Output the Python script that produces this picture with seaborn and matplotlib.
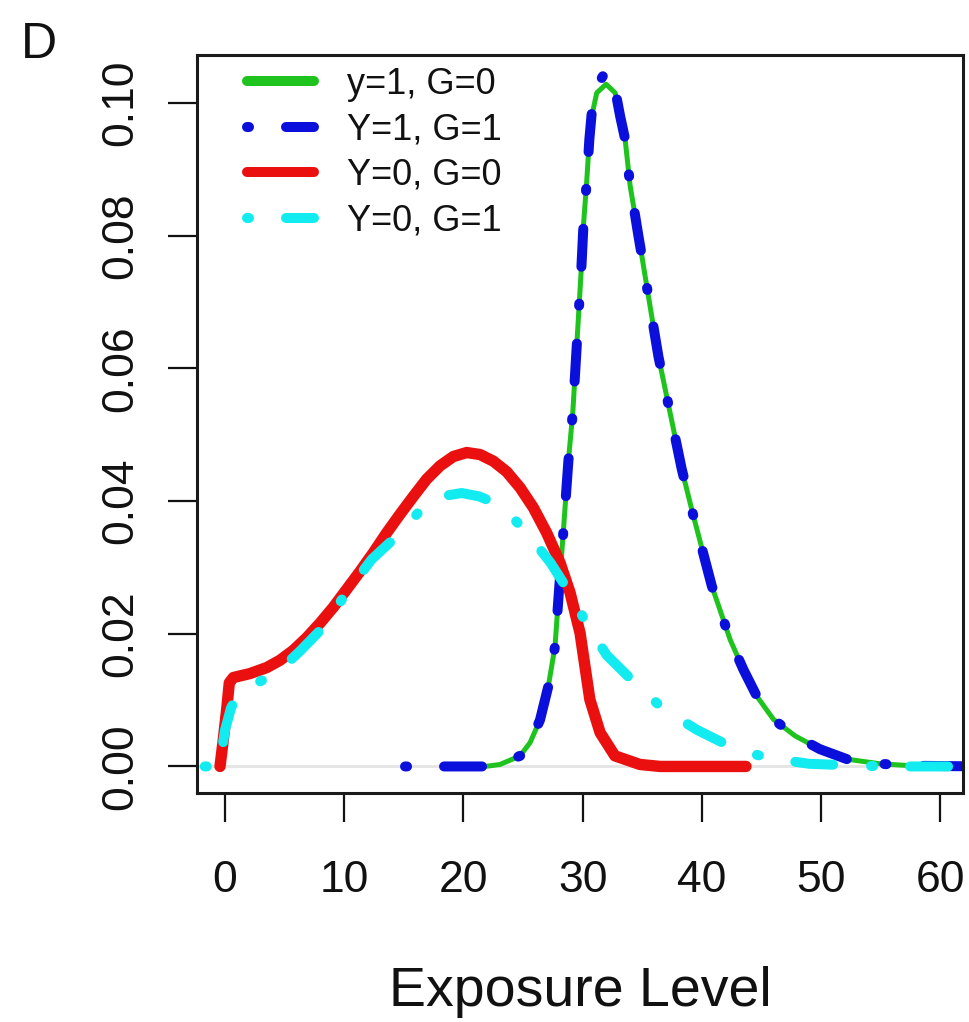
import numpy as np
import pandas as pd
import matplotlib
matplotlib.use("Agg")
import matplotlib.pyplot as plt
from matplotlib.lines import Line2D
import seaborn as sns

# ---------- DATA ----------
green_x = [21.8, 23.07, 24.75, 25.59, 26.42, 27.12, 27.68, 27.96, 28.39, 28.8, 29.17,
           29.45, 29.72, 29.9, 30.06, 30.34, 30.56, 30.76, 31.18, 31.96, 32.72, 33.14,
           33.56, 33.98, 34.4, 34.67, 35.0, 35.5, 36.35, 37.33, 38.31, 39.15, 40.83,
           42.37, 43.48, 44.6, 46.0, 47.82, 49.9, 52.16, 54.95, 57.7, 64.0]
green_y = [0.0, 0.0003, 0.0016, 0.0036, 0.0070, 0.0121, 0.0181, 0.0252, 0.0357, 0.0460,
           0.0533, 0.0618, 0.0700, 0.0755, 0.0814, 0.0882, 0.0945, 0.0980, 0.1015,
           0.1028, 0.1015, 0.0980, 0.0945, 0.0875, 0.0830, 0.0800, 0.0765, 0.0710,
           0.0618, 0.0533, 0.0448, 0.0387, 0.0272, 0.0191, 0.0146, 0.0106, 0.0071,
           0.0046, 0.0026, 0.0011, 0.0004, 0.0001, 0.0]

blue_x = [15.1, 21.8, 23.07, 24.75, 25.59, 26.42, 27.12, 27.68, 27.96, 28.39, 28.8,
          29.17, 29.45, 29.72, 29.9, 30.06, 30.34, 30.56, 30.76, 31.18, 31.96, 32.72,
          33.14, 33.56, 33.98, 34.4, 34.67, 35.0, 35.5, 36.35, 37.33, 38.31, 39.15,
          40.83, 42.37, 43.48, 44.6, 46.0, 47.82, 49.9, 52.16, 54.95, 57.7, 64.0]
blue_y = [0.0, 0.0, 0.0003, 0.0016, 0.0036, 0.0070, 0.0121, 0.0181, 0.0252, 0.0357,
          0.0460, 0.0533, 0.0618, 0.0700, 0.0755, 0.0814, 0.0882, 0.0945, 0.0985,
          0.1025, 0.1048, 0.1020, 0.0980, 0.0945, 0.0875, 0.0830, 0.0800, 0.0765,
          0.0710, 0.0618, 0.0533, 0.0448, 0.0387, 0.0272, 0.0191, 0.0146, 0.0106,
          0.0071, 0.0046, 0.0026, 0.0011, 0.0004, 0.0001, 0.0]

red_x = [-0.42, -0.14, 0.14, 0.36, 0.70, 2.10, 3.50, 4.61, 5.73, 6.85, 7.97, 9.09,
         10.21, 11.33, 12.44, 13.56, 14.68, 15.80, 16.92, 18.04, 19.15, 20.27, 21.39,
         22.51, 23.63, 24.75, 25.86, 26.98, 28.10, 28.94, 29.78, 30.6, 31.46, 32.7,
         34.8, 36.5, 43.7]
red_y = [0.0, 0.0041, 0.0086, 0.0126, 0.0134, 0.0140, 0.0149, 0.0160, 0.0175, 0.0194,
         0.0216, 0.0240, 0.0267, 0.0294, 0.0322, 0.0352, 0.0380, 0.0407, 0.0433,
         0.0453, 0.0467, 0.0473, 0.0470, 0.0460, 0.0444, 0.0420, 0.0390, 0.0352,
         0.0307, 0.0262, 0.0201, 0.0101, 0.0051, 0.0016, 0.0003, 0.0, 0.0]

cyan_x = [-1.7, -0.5, -0.3, 0.0, 0.5, 1.0, 2.0, 3.6, 5.0, 6.3, 8.2, 10.2, 12.3, 14.4,
          16.7, 18.5, 19.85, 21.3, 22.65, 24.0, 25.2, 27.3, 28.9, 30.3, 32.0, 34.3,
          36.8, 39.6, 42.4, 44.0, 45.9, 49.0, 52.0, 55.6, 64.0]
cyan_y = [0.0, 0.0, 0.0020, 0.0055, 0.0088, 0.0106, 0.0120, 0.0134, 0.0152, 0.0174,
          0.0209, 0.0262, 0.0312, 0.0347, 0.0392, 0.0408, 0.0412, 0.0407, 0.0397,
          0.0377, 0.0355, 0.0307, 0.0262, 0.0216, 0.0168, 0.0127, 0.0086, 0.0055,
          0.0030, 0.0020, 0.0012, 0.0004, 0.0002, 0.0, 0.0]

labels = ["y=1, G=0", "Y=1, G=1", "Y=0, G=0", "Y=0, G=1"]
x_ticks = [0, 10, 20, 30, 40, 50, 60]
y_ticks = [0.00, 0.02, 0.04, 0.06, 0.08, 0.10]

# ---------- STYLE ----------
sns.set_style("white")
plt.rcParams["font.family"] = ["Liberation Sans", "DejaVu Sans"]
plt.rcParams["text.color"] = "#111111"

c_green = "#1ec31e"
c_blue = "#0a0fdc"
c_red = "#ea1010"
c_cyan = "#12ecf0"
dotdash = (0.2, 3.7, 3.8, 3.8)   # R "dotdash" with round caps

fig = plt.figure(figsize=(9.69, 10.22), dpi=100)
ax = fig.add_axes([197 / 969, 1 - 793 / 1022, (963 - 197) / 969, (793 - 55) / 1022])

ax.axhline(0, color="#e4e4e4", lw=2, zorder=0.5)

series = [
    (green_x, green_y, c_green, 3.6, None),
    (blue_x, blue_y, c_blue, 7.2, dotdash),
    (red_x, red_y, c_red, 8.2, None),
    (cyan_x, cyan_y, c_cyan, 7.2, dotdash),
]
for xs, ys, col, lw, dash in series:
    df = pd.DataFrame({"x": xs, "y": ys})
    sns.lineplot(data=df, x="x", y="y", estimator=None, sort=False,
                 color=col, linewidth=lw, ax=ax)
    ln = ax.lines[-1]
    ln.set_solid_capstyle("round")
    ln.set_solid_joinstyle("round")
    ln.set_dash_capstyle("round")
    ln.set_dash_joinstyle("round")
    if dash is not None:
        ln.set_dashes(dash)

ax.set_xlim(-2.35, 61.9)
ax.set_ylim(-0.0040, 0.1072)
ax.set_xticks(x_ticks)
ax.set_xticklabels([str(v) for v in x_ticks])
ax.set_yticks(y_ticks)
ax.set_yticklabels([f"{v:.2f}" for v in y_ticks], rotation=90, va="center")
ax.tick_params(axis="both", direction="out", length=21, width=1.6,
               labelsize=32, colors="#111111", left=True, bottom=True)
ax.tick_params(axis="x", pad=27)
ax.tick_params(axis="y", pad=19)
for s in ax.spines.values():
    s.set_visible(True)
    s.set_linewidth(2.2)
    s.set_color("#1a1a1a")

ax.set_xlabel("Exposure Level", fontsize=40, labelpad=47, color="#111111")
ax.set_ylabel("")

handles = []
for xs, ys, col, lw, dash in series:
    h = Line2D([], [], color=col, lw=7.2, solid_capstyle="round",
               dash_capstyle="round")
    if dash is not None:
        h.set_dashes(dash)
    handles.append(h)
leg = fig.legend(handles, labels, loc="upper left",
                 bbox_to_anchor=(247 / 969, 1 - 67 / 1022), frameon=False,
                 borderpad=0, borderaxespad=0, handlelength=1.86,
                 handletextpad=0.92, labelspacing=0.29, fontsize=26)
for t in leg.get_texts():
    t.set_color("#111111")

fig.text(21 / 969, 1 - 58 / 1022, "D", fontsize=36, ha="left", va="baseline",
         color="#111111")

fig.savefig("out.png", dpi=100)
